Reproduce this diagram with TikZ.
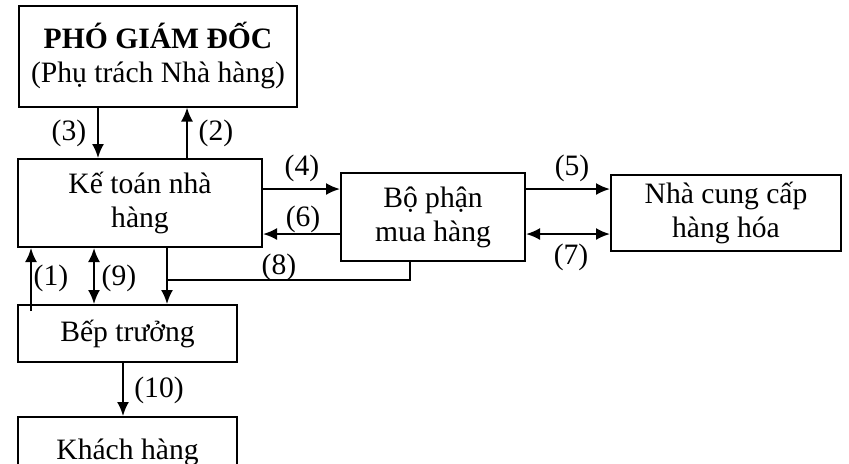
\documentclass[tikz,border=0pt]{standalone}
\usepackage{fontspec}
\setmainfont{Liberation Serif}
\usetikzlibrary{arrows.meta,calc}

\begin{document}
\begin{tikzpicture}[x=0.5pt,y=-0.5pt,
  every node/.style={font=\fontsize{14.8}{17}\selectfont},
  box/.style={draw,line width=1pt,rectangle,align=center,inner sep=0pt},
  arr/.style={line width=1pt,-{Latex[length=7pt,width=6pt]}},
  darr/.style={line width=1pt,{Latex[length=7pt,width=6pt]}-{Latex[length=7pt,width=6pt]}},
  lbl/.style={inner sep=0pt}]
\useasboundingbox (0,0) rectangle (849,463);
\clip (0,0) rectangle (849,463);
\fill[white] (0,0) rectangle (849,463);
%% boxes
\node[box,minimum width=139pt,minimum height=50.5pt] (pgd) at (158,56) {\textbf{PHÓ GIÁM ĐỐC}\\(Phụ trách Nhà hàng)};
\node[box,minimum width=122pt,minimum height=44pt] (ketoan) at (140,203) {Kế toán nhà\\hàng};
\node[box,minimum width=92pt,minimum height=44pt] (bophan) at (433,217) {Bộ phận\\mua hàng};
\node[box,minimum width=115pt,minimum height=38pt] (ncc) at (726,213) {Nhà cung cấp\\hàng hóa};
\node[box,minimum width=109.5pt,minimum height=28.5pt] (bep) at (127.5,333.5) {Bếp trưởng};
\node[box,minimum width=109.5pt,minimum height=35pt] (khach) at (127.5,452) {Khách hàng};
%% where the lines run
\coordinate (x1) at (31,0);
\coordinate (x9) at (94,0);
\coordinate (x3) at (98,0);
\coordinate (x10) at (123,0);
\coordinate (x0) at (167,0);
\coordinate (x2) at (187,0);
\coordinate (x8) at (410,0);
\coordinate (y4) at (0,189);
\coordinate (y6) at (0,234);
\coordinate (y8) at (0,280);
%% connectors
\draw[arr] (pgd.south -| x3) -- (ketoan.north -| x3);
\draw[arr] (ketoan.north -| x2) -- (pgd.south -| x2);
\draw[arr] (ketoan.east |- y4) -- (bophan.west |- y4);
\draw[arr] (bophan.west |- y6) -- (ketoan.east |- y6);
\draw[arr] (bophan.east |- y4) -- (ncc.west |- y4);
\draw[darr] (bophan.east |- y6) -- (ncc.west |- y6);
\draw[line width=1pt] (bophan.south -| x8) -- (x8 |- y8) -- (x0 |- y8);
\draw[arr] (ketoan.south -| x0) -- (bep.north -| x0);
\draw[arr] ($(bep.north -| x1)+(0,7)$) -- (ketoan.south -| x1);
\draw[darr] (ketoan.south -| x9) -- (bep.north -| x9);
\draw[arr] (bep.south -| x10) -- (khach.north -| x10);
%% numbers
\node[lbl] (l1) at (51,278) {(1)};
\node[lbl] (l2) at (216,133) {(2)};
\node[lbl] (l3) at (69,133) {(3)};
\node[lbl] (l4) at (302,168) {(4)};
\node[lbl] (l5) at (572,168) {(5)};
\node[lbl] (l6) at (303,219) {(6)};
\node[lbl] (l7) at (571,257) {(7)};
\node[lbl] (l8) at (279,267) {(8)};
\node[lbl] (l9) at (119,278) {(9)};
\node[lbl] (l10) at (159,390) {(10)};
\end{tikzpicture}
\end{document}
